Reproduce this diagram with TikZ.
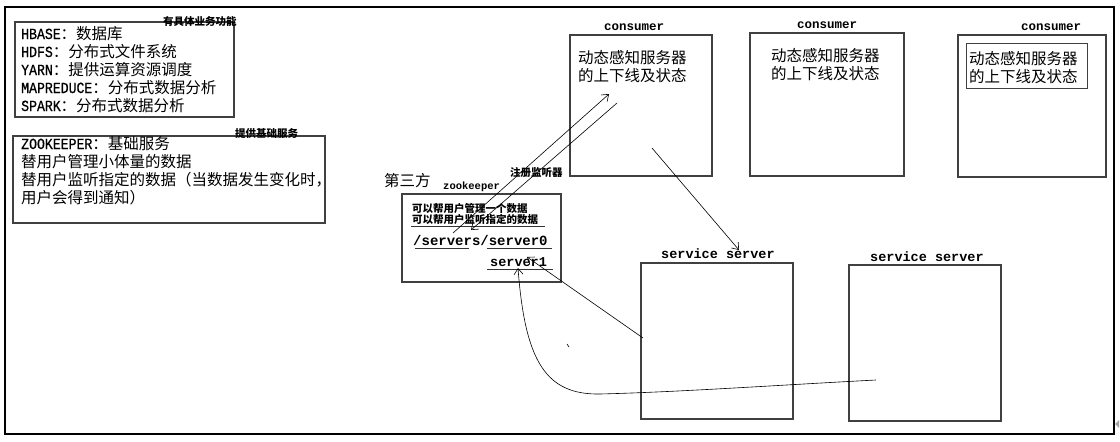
\documentclass[tikz,border=0pt]{standalone}
\usepackage{fontspec}
\setmainfont{Noto Sans CJK SC}
\newfontfamily\latf{Liberation Mono}[FakeStretch=0.85, FakeBold=0.6]
\newfontfamily\monof{Liberation Mono}
\newcommand\Lat[1]{{\latf #1}}
\usetikzlibrary{arrows.meta}
\begin{document}
\begin{tikzpicture}[x=1pt,y=-1pt,
  box/.style={draw=black!75, line width=1.1pt, inner sep=0pt},
  txt/.style={anchor=base west, inner sep=0pt, font=\fontsize{15.5}{18}\selectfont},
  small/.style={anchor=base west, inner sep=0pt, font=\fontsize{10.5}{12}\selectfont\bfseries},
  mono/.style={anchor=base west, inner sep=0pt, font=\fontsize{12.5}{14}\selectfont\monof\bfseries},
  conn/.style={line width=0.6pt, -{Straight Barb[length=6pt,width=9pt]}},
  uline/.style={line width=1pt, black!80},
]
\useasboundingbox (0,0) rectangle (1120,442);
\fill[white] (0,0) rectangle (1120,442);
% outer frame
\node[draw=black, line width=1.3pt, inner sep=0pt, minimum width=1109pt, minimum height=427pt] (frame) at (559.5,220.5) {};
\fill[gray!70] (1115,424) -- (1119,420) -- (1119,428) -- cycle;

% box 1
\node[box, minimum width=219pt, minimum height=95pt] (b1) at (124.5,69.5) {};
\node[small] (l1) at (163,25) {有具体业务功能};
\node[txt] (t11) at (21,39) {\Lat{HBASE}：数据库};
\node[txt] (t12) at (21,57) {\Lat{HDFS}：分布式文件系统};
\node[txt] (t13) at (21,75) {\Lat{YARN}：提供运算资源调度};
\node[txt] (t14) at (21,93) {\Lat{MAPREDUCE}：分布式数据分析};
\node[txt] (t15) at (21,111) {\Lat{SPARK}：分布式数据分析};

% box 2
\node[box, minimum width=312pt, minimum height=87pt] (b2) at (169,179.5) {};
\node[small] (l2) at (235,137) {提供基础服务};
\node[txt] (t21) at (21,149) {\Lat{ZOOKEEPER}：基础服务};
\node[txt] (t22) at (21,167) {替用户管理小体量的数据};
\node[txt] (t23) at (21,185) {替用户监听指定的数据（当数据发生变化时，};
\node[txt] (t24) at (21,203) {用户会得到通知）};

% third party / zookeeper
\node[txt] (third) at (384,186) {第三方};
\node[small] (reg) at (510,176) {注册监听器};
\node[anchor=base west, inner sep=0pt, font=\fontsize{10.5}{12}\selectfont\monof\bfseries] (zkl) at (443,189) {zookeeper};
\node[box, minimum width=159pt, minimum height=88pt] (zk) at (481.5,238) {};
\node[small] (z1) at (412,212) {可以帮用户管理一个数据};
\node[small] (z2) at (412,223) {可以帮用户监听指定的数据};
\coordinate (u1a) at (411,226); \coordinate (u1b) at (545,226);
\draw[uline] (u1a) -- (u1b);
\node[anchor=base west, inner sep=0pt, font=\fontsize{14}{16}\selectfont\monof\bfseries] (path) at (413,245) {/servers/server0};
\coordinate (u2a) at (415,248); \coordinate (u2b) at (469,248);
\coordinate (u3a) at (487,248); \coordinate (u3b) at (552,248);
\draw[uline] (u2a) -- (u2b);
\draw[uline] (u3a) -- (u3b);
\node[anchor=base west, inner sep=0pt, font=\fontsize{13.5}{16}\selectfont\monof\bfseries] (srv1) at (490,266) {server1};
\coordinate (u4a) at (487,269); \coordinate (u4b) at (553,269);
\draw[uline] (u4a) -- (u4b);

% consumers
\node[box, minimum width=142pt, minimum height=141pt] (c1) at (641,105.5) {};
\node[mono] (c1l) at (604,30) {consumer};
\node[txt] (c1a) at (578,63) {动态感知服务器};
\node[txt] (c1b) at (578,81) {的上下线及状态};

\node[box, minimum width=154pt, minimum height=143pt] (c2) at (827,104.5) {};
\node[mono] (c2l) at (797,28) {consumer};
\node[txt] (c2a) at (771,61) {动态感知服务器};
\node[txt] (c2b) at (771,79) {的上下线及状态};

\node[box, minimum width=148pt, minimum height=142pt] (c3) at (1032,106) {};
\node[mono] (c3l) at (1021,30) {consumer};
\node[box, line width=0.9pt, minimum width=121pt, minimum height=45pt] (c3i) at (1026.5,65.5) {};
\node[txt] (c3a) at (969,64) {动态感知服务器};
\node[txt] (c3b) at (969,82) {的上下线及状态};

% service servers
\node[box, minimum width=152pt, minimum height=156pt] (sA) at (717,341) {};
\node[anchor=base west, inner sep=0pt, font=\fontsize{13.5}{16}\selectfont\monof\bfseries] (sAl) at (661,258) {service server};
\node[box, minimum width=152pt, minimum height=156pt] (sB) at (925,343) {};
\node[anchor=base west, inner sep=0pt, font=\fontsize{13.5}{16}\selectfont\monof\bfseries] (sBl) at (870,261) {service server};

% connectors
\coordinate (pA1) at (453,233); \coordinate (pA2) at (609,94);
\coordinate (pB1) at (617,103); \coordinate (pB2) at (471,230);
\coordinate (pC1) at (652,148); \coordinate (pC2) at (739,250);
\coordinate (pD1) at (643,338); \coordinate (pD2) at (527,257);
\coordinate (pE1) at (876,380); \coordinate (pE2) at (518,268);
\draw[conn] (pA1) -- (pA2);
\draw[conn] (pB1) -- (pB2);
\draw[conn] (pC1) -- (pC2);
\draw[conn] (pD1) -- (pD2);
\draw[conn] (pE1) .. controls (780,385) and (680,392) .. (600,394) .. controls (545,395) and (525,360) .. (pE2);
\draw[line width=0.6pt] (567,344) -- (569,347);
\end{tikzpicture}
\end{document}
